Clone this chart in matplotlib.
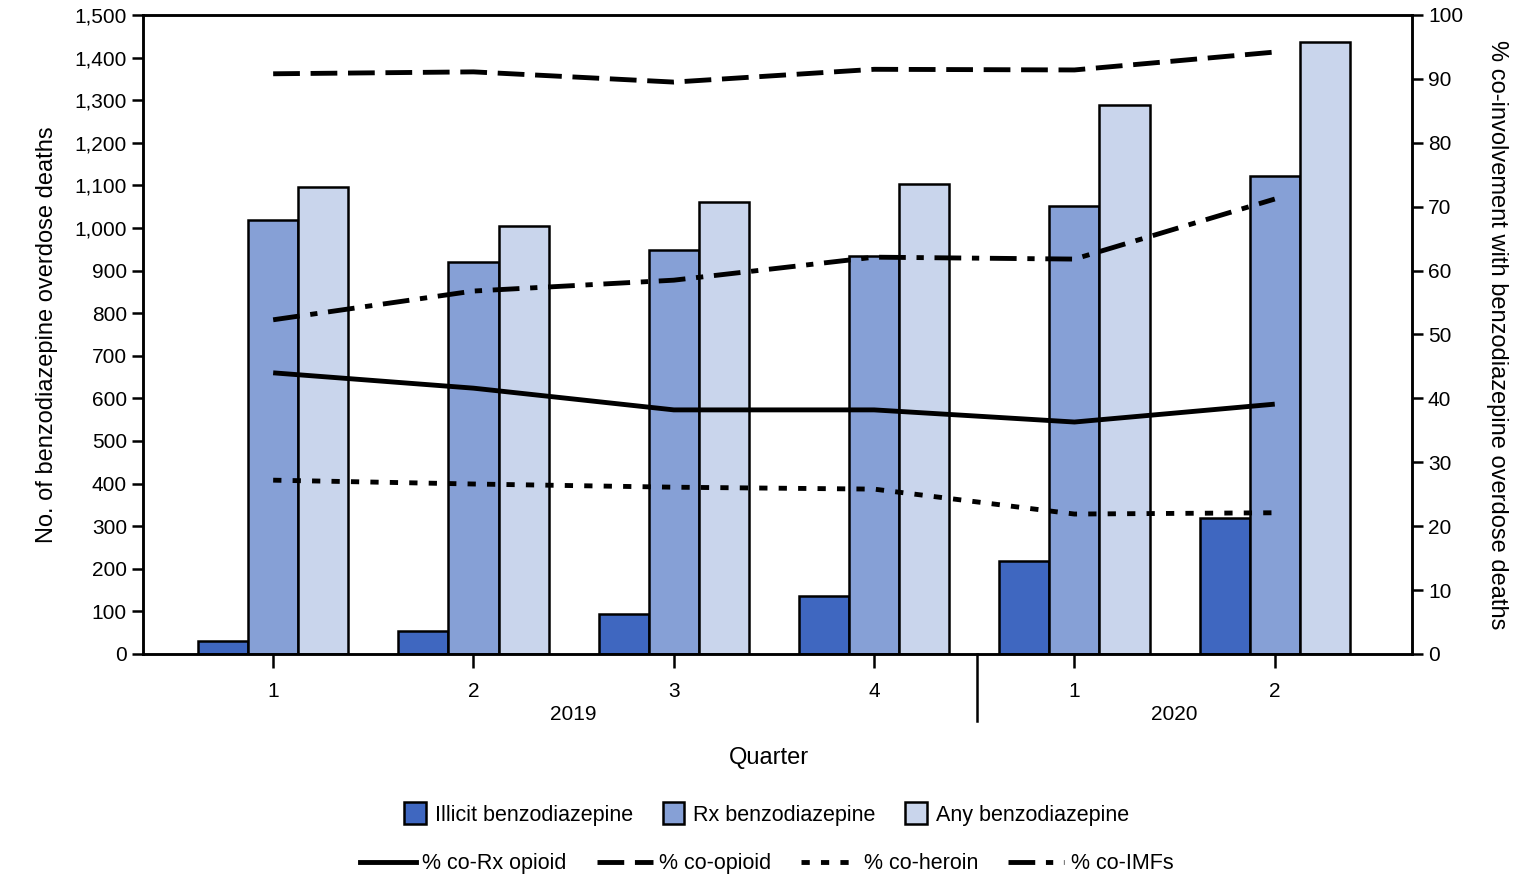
import matplotlib; matplotlib.use("Agg")
import matplotlib.pyplot as plt
from matplotlib.patches import Patch
from matplotlib.lines import Line2D
import numpy as np

plt.rcParams['font.family'] = ['Liberation Sans', 'DejaVu Sans']

# Data
quarters = ['1', '2', '3', '4', '1', '2']
years = ['2019', '2020']
illicit = [30, 54, 94, 136, 218, 319]
rx_benzo = [1019, 920, 948, 934, 1052, 1122]
any_benzo = [1096, 1005, 1061, 1103, 1289, 1437]

pct_rx_opioid = [44.0, 41.6, 38.2, 38.2, 36.3, 39.1]
pct_opioid = [90.8, 91.1, 89.5, 91.5, 91.4, 94.2]
pct_heroin = [27.2, 26.6, 26.1, 25.8, 21.9, 22.1]
pct_imfs = [52.3, 56.8, 58.5, 62.1, 61.8, 71.2]

c_illicit = '#3f67c0'
c_rx = '#86a0d6'
c_any = '#c9d5ec'

fig = plt.figure(figsize=(15.24, 8.77), dpi=100)
ax = fig.add_axes([0.0938, 0.2543, 0.8327, 0.7286])
ax2 = ax.twinx()

x = np.arange(len(quarters))
w = 0.25
ax.bar(x - w, illicit, w, color=c_illicit, edgecolor='black', linewidth=1.8)
ax.bar(x, rx_benzo, w, color=c_rx, edgecolor='black', linewidth=1.8)
ax.bar(x + w, any_benzo, w, color=c_any, edgecolor='black', linewidth=1.8)

lw = 3.5
d_opioid = (5.5, 2.2)
d_heroin = (1.7, 2.3)
d_imfs = (5.5, 2.2, 1.5, 2.2)
ax2.plot(x, pct_rx_opioid, color='black', lw=lw, solid_capstyle='butt')
ax2.plot(x, pct_opioid, color='black', lw=lw, dashes=d_opioid)
ax2.plot(x, pct_heroin, color='black', lw=lw, dashes=d_heroin)
ax2.plot(x, pct_imfs, color='black', lw=lw, dashes=d_imfs)

ax.set_xlim(-0.65, 5.685)
ax.set_ylim(0, 1500)
ax2.set_ylim(0, 100)
ax.set_yticks(np.arange(0, 1501, 100))
ax.set_yticklabels([f'{v:,}' for v in range(0, 1501, 100)])
ax2.set_yticks(np.arange(0, 101, 10))

ax.set_xticks(x)
ax.set_xticklabels(quarters)

for a in (ax, ax2):
    for s in a.spines.values():
        s.set_linewidth(1.8)
    a.tick_params(labelsize=15, width=1.8, length=8, direction='out')
ax.tick_params(axis='x', length=10, pad=10)

# year labels and separator
ax.text(1.5, -0.095, years[0], transform=ax.get_xaxis_transform(), ha='center', va='center', fontsize=15)
ax.text(4.5, -0.095, years[1], transform=ax.get_xaxis_transform(), ha='center', va='center', fontsize=15)
ax.plot([3.515, 3.515], [0, -0.105], transform=ax.get_xaxis_transform(), color='black', lw=1.8, clip_on=False)

ax.set_xlabel('Quarter', fontsize=17)
ax.xaxis.set_label_coords(0.493, -0.146)
ax.set_ylabel('No. of benzodiazepine overdose deaths', fontsize=17, labelpad=12)
ax2.set_ylabel('% co-involvement with benzodiazepine overdose deaths', fontsize=17, rotation=270, labelpad=32)

bar_handles = [Patch(facecolor=c, edgecolor='black', linewidth=1.8) for c in (c_illicit, c_rx, c_any)]
fig.legend(bar_handles, ['Illicit benzodiazepine', 'Rx benzodiazepine', 'Any benzodiazepine'],
           loc='center', bbox_to_anchor=(0.503, 0.072), ncol=3, frameon=False, fontsize=15.5,
           handlelength=1.0, handleheight=1.2, handletextpad=0.4, columnspacing=1.4)
line_handles = [
    Line2D([], [], color='black', lw=lw),
    Line2D([], [], color='black', lw=lw, dashes=d_opioid),
    Line2D([], [], color='black', lw=lw, dashes=d_heroin),
    Line2D([], [], color='black', lw=lw, dashes=d_imfs),
]
fig.legend(line_handles, ['% co-Rx opioid', '% co-opioid', '% co-heroin', '% co-IMFs'],
           loc='center', bbox_to_anchor=(0.503, 0.015), ncol=4, frameon=False, fontsize=15.5,
           handlelength=2.6, handletextpad=0.3, columnspacing=1.4)

plt.savefig("out.png", dpi=100)
